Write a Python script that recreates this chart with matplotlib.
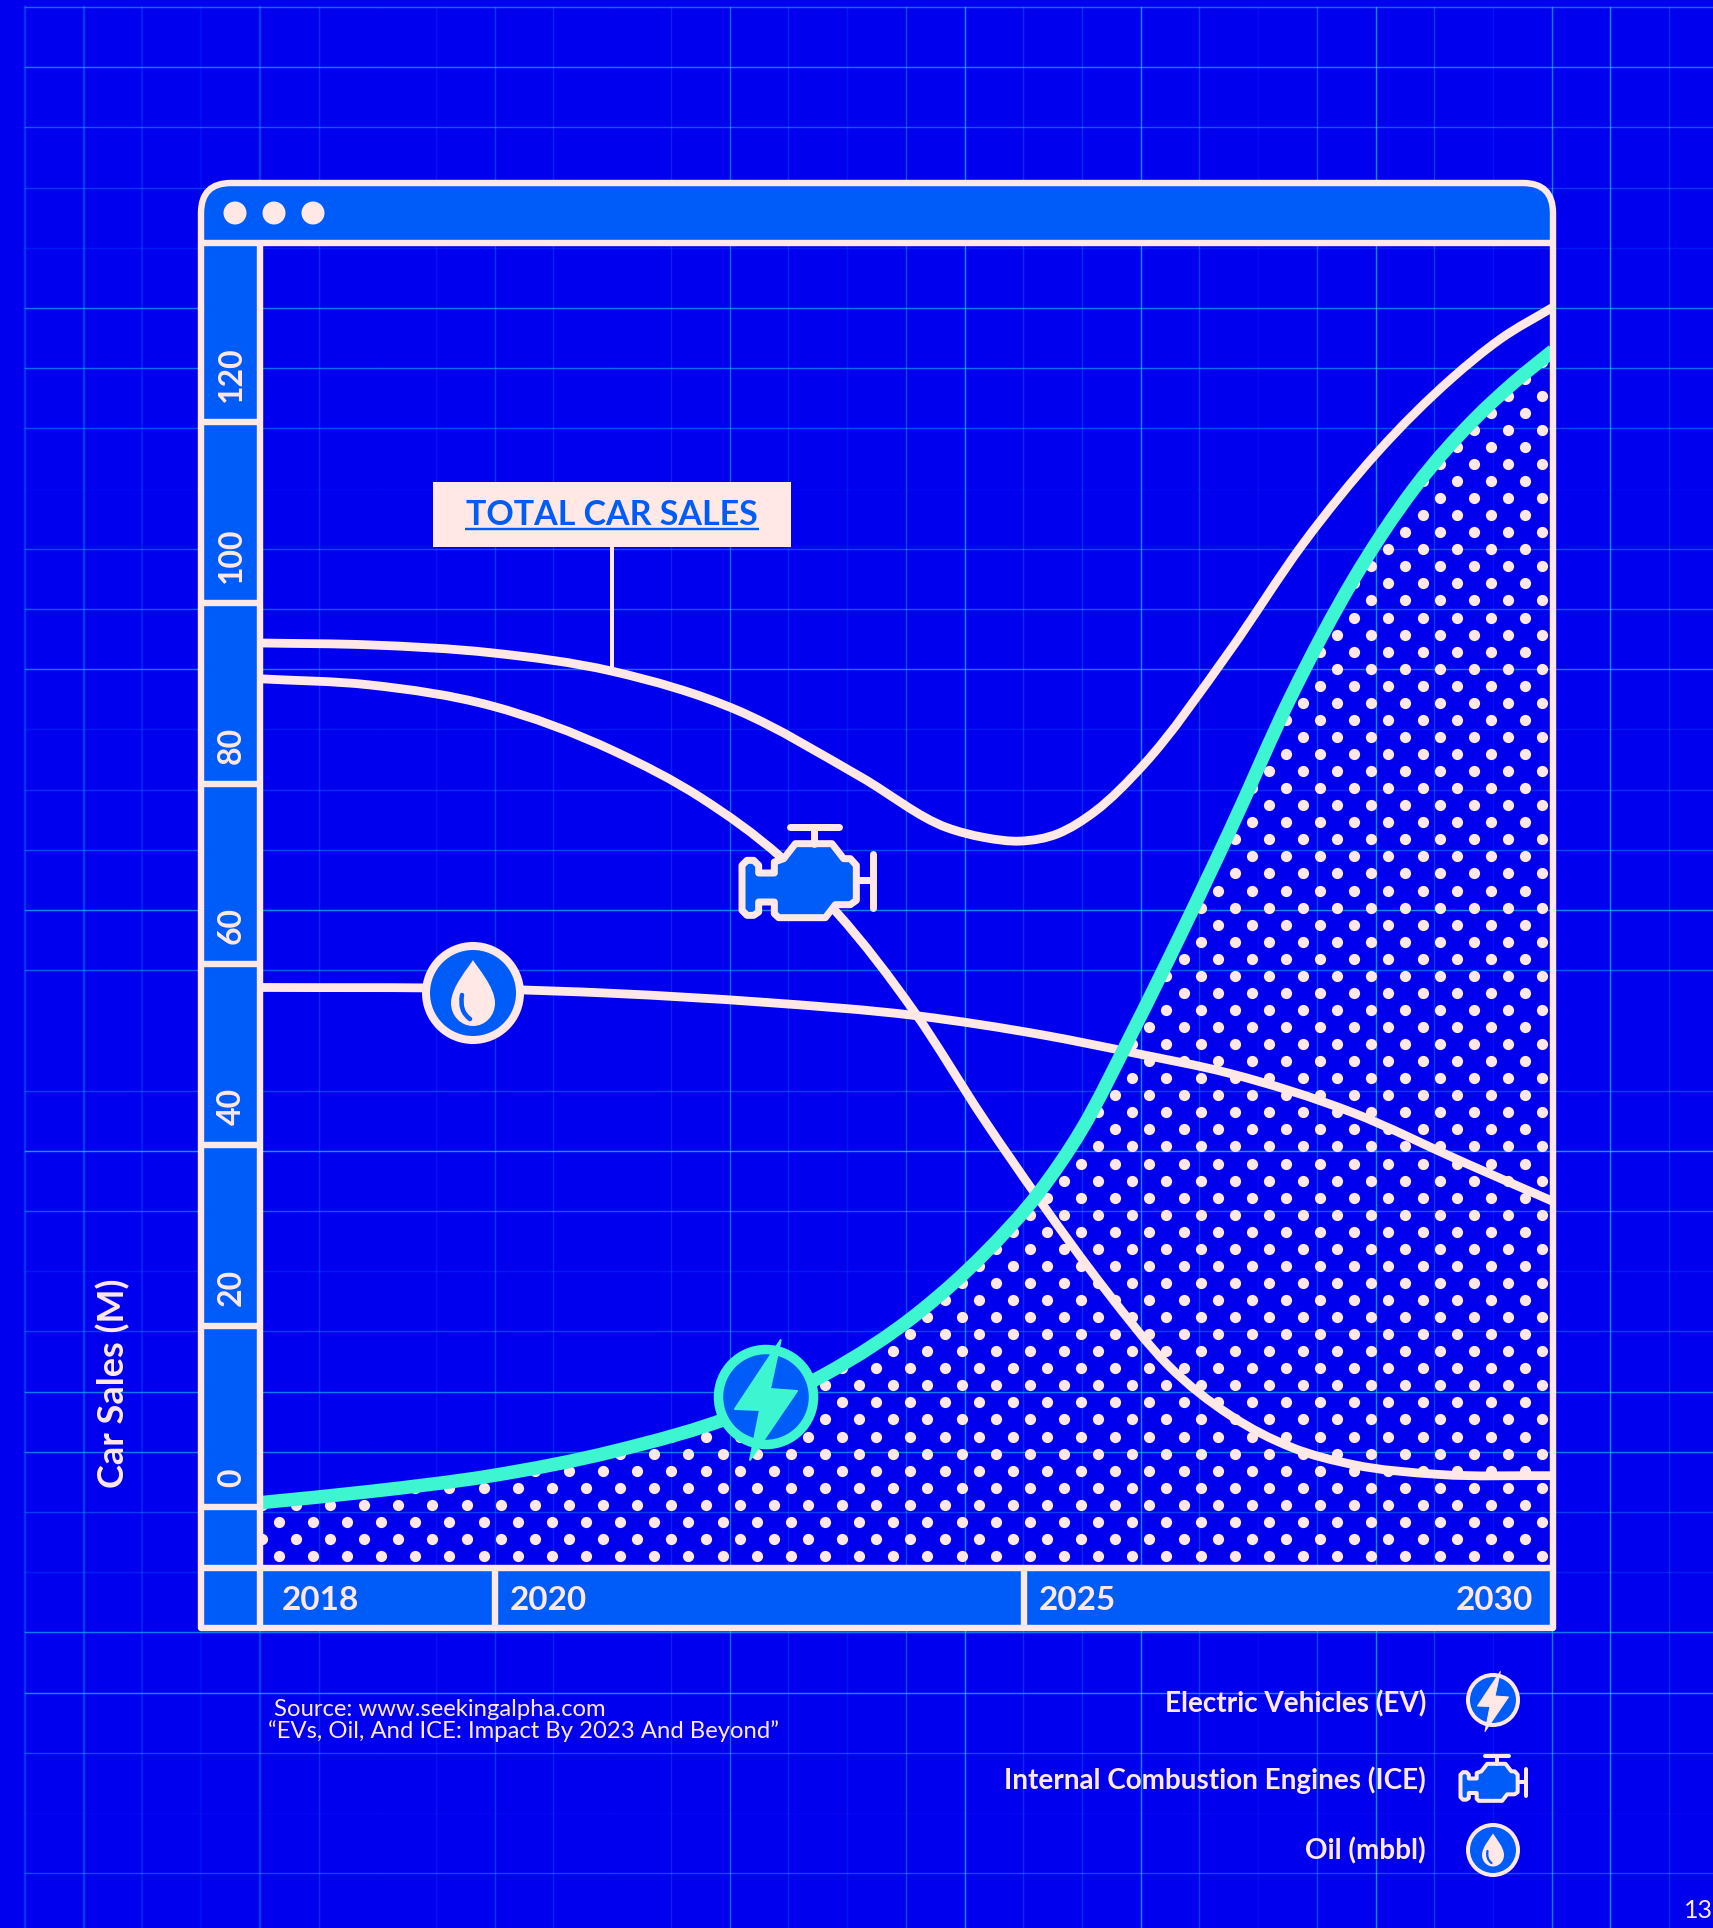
import numpy as np
import matplotlib
matplotlib.use("Agg")
import matplotlib.pyplot as plt
from matplotlib.path import Path
from matplotlib.patches import PathPatch, Circle, Polygon, Rectangle

# chart values
total_years = [2017.78, 2018.81, 2019.97, 2021.11, 2022.30, 2023.46, 2024.27, 2024.62, 2024.97,
               2025.32, 2025.67, 2026.13, 2026.94, 2027.64, 2028.34, 2029.04, 2029.50, 2030]
total_sales = [95.56, 95.35, 94.47, 92.43, 88.07, 80.73, 75.15, 74.06, 73.65,
               74.47, 76.92, 82.09, 94.6, 106.57, 116.64, 124.8, 129.16, 132.7]

ice_years = [2017.78, 2018.81, 2019.97, 2021.13, 2021.95, 2022.70, 2023.23, 2023.98, 2024.62,
             2025.14, 2025.78, 2026.36, 2026.95, 2027.53, 2028.11, 2028.92, 2030]
ice_sales = [91.6, 90.93, 88.6, 83.58, 78.42, 71.9, 65.76, 54.5, 42.9,
             34.07, 23.87, 15.7, 10.13, 6.59, 4.69, 3.6, 3.46]

oil_years = [2017.78, 2019.80, 2021.13, 2022.53, 2023.98, 2025.20, 2026.02, 2026.95, 2028.11, 2029.15, 2030]
oil_mbbl = [57.46, 57.33, 56.8, 55.83, 54.34, 52.16, 50.26, 47.94, 43.6, 38.15, 33.8]

ev_years = [2017.78, 2018.81, 2019.97, 2021.13, 2022.30, 2023.11, 2024.04, 2024.62, 2025.14,
            2025.55, 2026.02, 2026.48, 2026.95, 2027.53, 2028.11, 2028.69, 2029.27, 2029.62, 2030]
ev_sales = [0.47, 1.7, 3.46, 6.18, 10.26, 14.6, 21.83, 27.95, 34.75,
            41.83, 52.4, 63.3, 74.9, 89.8, 102.5, 112.7, 120.45, 124.26, 127.9]

y_ticks = [0, 20, 40, 60, 80, 100, 120]
year_ticks = [2018, 2020, 2025, 2030]
legend_labels = ["Electric Vehicles (EV)", "Internal Combustion Engines (ICE)", "Oil (mbbl)"]

# brightness of the background grid lines, left to right and top to bottom
grid_v = [.55, .6, .3, .15, .6, .5, .03, .25, .6, .4, .02, .4, .7, .25, .15,
          .5, .9, .3, .3, .9, .4, .1, .5, .9, .4, .15, .8, .9, .3]
grid_h = [.7, .8, .6, .35, .15, .8, .7, .5, .05, .5, .6, .8, .15, .3, .5, .9,
          .6, 0, .4, 1, .6, .15, .4, .8, .8, .4, .2, .8, .9, .5, .05, .5]

BG = "#0000EF"
PANEL = "#005CF8"
CREAM = "#FFE8E6"
TEAL = "#3EF5D2"
GRID = "#12DCF2"
FONT = "Lato"

W, H = 1713, 1928
DPI = 100


def px(n):
    return n * 72 / DPI


def smooth_path(xs, ys):
    # bezier segments through the read points, slopes weighted by the x spacing
    xs = np.asarray(xs, float)
    ys = np.asarray(ys, float)
    h = np.diff(xs)
    d = np.diff(ys) / h
    m = np.zeros(len(xs))
    m[0] = d[0]
    m[-1] = d[-1]
    m[1:-1] = (d[:-1] * h[1:] + d[1:] * h[:-1]) / (h[:-1] + h[1:])
    verts = [(xs[0], ys[0])]
    codes = [Path.MOVETO]
    for i in range(len(xs) - 1):
        verts += [(xs[i] + h[i] / 3, ys[i] + m[i] * h[i] / 3),
                  (xs[i + 1] - h[i] / 3, ys[i + 1] - m[i + 1] * h[i] / 3),
                  (xs[i + 1], ys[i + 1])]
        codes += [Path.CURVE4] * 3
    return Path(verts, codes)


fig = plt.figure(figsize=(W / DPI, H / DPI), dpi=DPI, facecolor=BG)

# background layer in pixel coordinates
bg = fig.add_axes([0, 0, 1, 1], zorder=0)
bg.set_xlim(0, W)
bg.set_ylim(H, 0)
bg.axis("off")

for i, a in enumerate(grid_v):
    x = 25 + 58.72 * i
    col = "#0A86F4" if x < 700 else GRID
    bg.plot([x, x], [7, H], color=col, alpha=a * 0.7, lw=px(2.4 if x < 300 else 1.4), zorder=1)
for i, a in enumerate(grid_h):
    y = 7 + 60.2 * i
    bg.plot([25, W], [y, y], color=GRID, alpha=a * 0.7, lw=px(1.4), zorder=1)

# window panels
title_bar = Path([(201, 243), (201, 213), (201, 183), (231, 183), (1523, 183), (1553, 183), (1553, 213), (1553, 243), (201, 243)],
                 [Path.MOVETO, Path.LINETO, Path.CURVE3, Path.CURVE3, Path.LINETO, Path.CURVE3, Path.CURVE3, Path.LINETO, Path.CLOSEPOLY])
bg.add_patch(PathPatch(title_bar, fc=PANEL, ec="none", zorder=3))
bg.add_patch(Rectangle((201, 243), 59, 1385, fc=PANEL, ec="none", zorder=3))
bg.add_patch(Rectangle((201, 1568), 1352, 60, fc=PANEL, ec="none", zorder=3))

# chart layer
ax = fig.add_axes([260 / W, (H - 1568) / H, 1293 / W, 1325 / H], zorder=1)
ax.set_xlim(2017.78, 2030)
ax.set_ylim(-6.75, 139.8)
ax.axis("off")

# dotted area under the EV curve
ev_path = smooth_path(ev_years, ev_sales)
area = Path(list(ev_path.vertices) + [(2030, -6.75), (2017.78, -6.75), (2017.78, 0.47)],
            list(ev_path.codes) + [Path.LINETO, Path.LINETO, Path.CLOSEPOLY])
area_patch = PathPatch(area, transform=ax.transData, fc="none", ec="none")
ax.add_patch(area_patch)

dx, dy = 34.14 / 105.8, 17.06 / 9.04
dot_x, dot_y = [], []
for r, v in enumerate(np.arange(-5.42, 135, dy)):
    start = 2018.28 - (0.5 * dx if r % 2 else 0) - dx
    for yr in np.arange(start, 2030.2, dx):
        dot_x.append(yr)
        dot_y.append(v)
dots = ax.scatter(dot_x, dot_y, s=px(11.2) ** 2, color=CREAM, lw=0, zorder=2)
dots.set_clip_path(area_patch)

ax.add_patch(PathPatch(smooth_path(oil_years, oil_mbbl), fc="none", ec=CREAM, lw=px(8.8), zorder=3))
ax.add_patch(PathPatch(smooth_path(ice_years, ice_sales), fc="none", ec=CREAM, lw=px(8.8), zorder=3))
ax.add_patch(PathPatch(smooth_path(total_years, total_sales), fc="none", ec=CREAM, lw=px(8.8), zorder=3))
ax.add_patch(PathPatch(ev_path, fc="none", ec=TEAL, lw=px(13.5), zorder=4))

# value column: separator on each tick with its label above it
col_left = -59 / 1293
for v in y_ticks:
    ax.plot([col_left, 0], [v, v], transform=ax.get_yaxis_transform(), color=CREAM,
            lw=px(6.4), clip_on=False, zorder=5, solid_capstyle="butt")
    ax.annotate(str(v), xy=(col_left / 2, v), xycoords=ax.get_yaxis_transform(),
                xytext=(1, 20), textcoords="offset pixels", rotation=90, ha="center", va="bottom",
                color=CREAM, fontsize=23, family=FONT, fontweight="bold", zorder=6)

# year strip below the plot
strip = -60 / 1325
for yr in year_ticks[1:3]:
    ax.plot([yr, yr], [strip, 0], transform=ax.get_xaxis_transform(), color=CREAM,
            lw=px(6.4), clip_on=False, zorder=5, solid_capstyle="butt")
for yr, off, align in zip(year_ticks, [-2, 15, 15, -20], ["left", "left", "left", "right"]):
    ax.annotate(str(yr), xy=(yr, strip / 2), xycoords=ax.get_xaxis_transform(),
                xytext=(off, 0), textcoords="offset pixels", ha=align, va="center_baseline",
                color=CREAM, fontsize=24, family=FONT, fontweight="bold", zorder=6)

# top layer in pixel coordinates: frame, icons, texts
top = fig.add_axes([0, 0, 1, 1], zorder=2)
top.set_xlim(0, W)
top.set_ylim(H, 0)
top.axis("off")

frame = Path([(201, 1628), (201, 213), (201, 183), (231, 183), (1523, 183), (1553, 183), (1553, 213), (1553, 1628), (201, 1628)],
             [Path.MOVETO, Path.LINETO, Path.CURVE3, Path.CURVE3, Path.LINETO, Path.CURVE3, Path.CURVE3, Path.LINETO, Path.CLOSEPOLY])
top.add_patch(PathPatch(frame, fc="none", ec=CREAM, lw=px(6.4), joinstyle="round"))
top.plot([201, 1553], [243, 243], color=CREAM, lw=px(6.4), solid_capstyle="butt")
top.plot([201, 1553], [1568, 1568], color=CREAM, lw=px(6.4), solid_capstyle="butt")
top.plot([260, 260], [243, 1628], color=CREAM, lw=px(6.4), solid_capstyle="butt")
for x in [235, 274, 313]:
    top.add_patch(Circle((x, 213), 11.5, fc=CREAM, ec="none"))


def draw_bolt(cx, cy, s, r, ring, color, bolt_color):
    top.add_patch(Circle((cx, cy), r, fc=PANEL, ec=color, lw=px(ring), zorder=5))
    shape = [(14.7, -57), (-31, 12), (-6, 13), (-16, 63), (31, -6), (4, -8)]
    top.add_patch(Polygon([(cx + a * s, cy + b * s) for a, b in shape], closed=True, fc=bolt_color,
                          ec=bolt_color, lw=px(2 * s), joinstyle="round", zorder=6))


def draw_engine(cx, cy, s, lw):
    body = [(300, 160), (395, 160), (430, 205), (450, 205), (468, 225), (468, 330), (450, 343), (405, 343),
            (375, 382), (235, 382), (222, 370), (222, 335), (175, 335), (175, 365), (160, 375), (140, 375),
            (125, 360), (125, 225), (140, 210), (160, 210), (175, 225), (175, 248), (222, 248), (222, 215),
            (250, 205), (285, 160)]

    def pos(p):
        return cx + (p[0] - 320) / 3 * s, cy + (p[1] - 245) / 3 * s

    top.add_patch(Polygon([pos(p) for p in body], closed=True, fc=PANEL, ec=CREAM, lw=px(lw),
                          joinstyle="round", zorder=6))
    for seg in [[(270, 110), (415, 110)], [(342, 110), (342, 160)], [(468, 270), (518, 270)], [(518, 190), (518, 352)]]:
        a, b = pos(seg[0]), pos(seg[1])
        top.plot([a[0], b[0]], [a[1], b[1]], color=CREAM, lw=px(lw), solid_capstyle="round", zorder=6)


def draw_drop(cx, cy, s, r, ring):
    top.add_patch(Circle((cx, cy), r, fc=PANEL, ec=CREAM, lw=px(ring), zorder=5))
    v = [(0, -33), (4, -26), (22, -6), (22, 10), (22, 23), (12, 33), (0, 33),
         (-12, 33), (-22, 23), (-22, 10), (-22, -6), (-4, -26), (0, -33)]
    c = [Path.MOVETO] + [Path.CURVE4] * 12
    drop = Path([(cx + a * s, cy + b * s) for a, b in v], c)
    top.add_patch(PathPatch(drop, fc=CREAM, ec="none", zorder=6))
    shine = Path([(cx - 11 * s, cy + 2 * s), (cx - 14 * s, cy + 18 * s), (cx - 3 * s, cy + 26 * s)],
                 [Path.MOVETO, Path.CURVE3, Path.CURVE3])
    top.add_patch(PathPatch(shine, fc="none", ec=PANEL, lw=px(4.5 * s), capstyle="round", zorder=7))


draw_drop(473, 993, 1, 47, 8)
draw_engine(807, 872, 1, 7)
draw_bolt(766, 1397, 1, 47.5, 9.5, TEAL, TEAL)

draw_bolt(1493, 1700, 0.5, 25, 4, CREAM, CREAM)
draw_engine(1493, 1778, 0.5, 4)
draw_drop(1493, 1850, 0.5, 25, 4)

# callout on the total line
top.plot([612, 612], [547, 674], color=CREAM, lw=px(4), solid_capstyle="butt")
top.add_patch(Rectangle((433, 482), 358, 65, fc=CREAM, ec="none"))
top.text(612, 515, "TOTAL CAR SALES", color=PANEL, fontsize=24.5, family=FONT, fontweight="bold",
         ha="center", va="center")
top.plot([465, 759], [528.5, 528.5], color=PANEL, lw=px(2.4), solid_capstyle="butt")

top.text(113, 1488, "Car Sales (M)", color=CREAM, fontsize=26, family=FONT, fontweight="bold",
         rotation=90, ha="center", va="bottom")

top.text(274, 1709, "Source: www.seekingalpha.com", color=CREAM, fontsize=17.2, family=FONT, ha="left", va="center")
top.text(268, 1731, "“EVs, Oil, And ICE: Impact By 2023 And Beyond”", color=CREAM, fontsize=17.2, family=FONT,
         ha="left", va="center")

for label, y in zip(legend_labels, [1704, 1780, 1851]):
    top.text(1426, y, label, color=CREAM, fontsize=20.1, family=FONT, fontweight="bold", ha="right", va="center")

top.text(1684, 1910, "13", color=CREAM, fontsize=18, family=FONT, ha="left", va="center")

fig.savefig("out.png", dpi=DPI, facecolor=BG)
